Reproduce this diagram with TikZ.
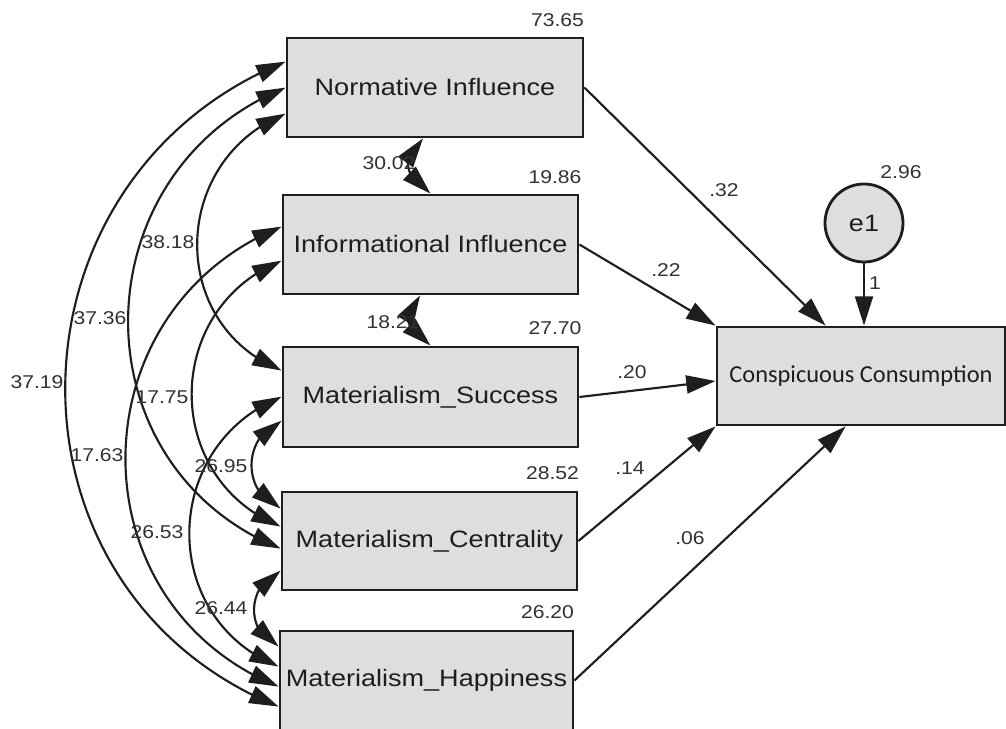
\documentclass[tikz,border=0pt]{standalone}
\usepackage{fontspec}
\setmainfont[FakeStretch=1.14]{Liberation Sans}
\newfontfamily\ccfont{Carlito}
\usetikzlibrary{arrows.meta,bending,calc}
\definecolor{boxfill}{RGB}{222,222,222}
\definecolor{ink}{RGB}{30,30,30}
\definecolor{numink}{RGB}{50,50,50}
\begin{document}
\begin{tikzpicture}[x=0.75pt,y=-0.75pt,
  >={Triangle[length=22pt,width=13.5pt]},
  box/.style={draw=ink, line width=2.1pt, fill=boxfill, inner sep=0pt, font=\fontsize{17.8}{20}\selectfont, text=ink},
  num/.style={font=\fontsize{13.9}{15}\selectfont, text=numink, inner sep=0pt},
  arr/.style={->, line width=1.6pt, draw=ink},
  cov/.style={<->, line width=1.6pt, draw=ink, out=202, in=158, looseness=1.235}]
\useasboundingbox (0,0) rectangle (1006,728);
\fill[white] (0,0) rectangle (1006,728);

% boxes
\node[box, minimum width=222pt, minimum height=74.25pt] (N) at (435,87.5) {Normative Influence};
\node[box, minimum width=221.25pt, minimum height=74.25pt] (I) at (430.5,244.5) {Informational Influence};
\node[box, minimum width=221.25pt, minimum height=75pt] (S) at (430.5,397) {Materialism\_Success};
\node[box, minimum width=221.25pt, minimum height=73.5pt] (C) at (429.5,541) {Materialism\_Centrality};
\node[box, minimum width=219.75pt, minimum height=74.25pt] (H) at (426.5,680.5) {Materialism\_Happiness};
\node[box, minimum width=216pt, minimum height=73.5pt, font=\ccfont\fontsize{18.3}{20}\selectfont] (CC) at (861,376) {Conspicuous Consumption};
\node[box, circle, minimum size=58.5pt] (e1) at (864,223) {e1};

% covariances
\draw[cov] ($(N.south)+(-12,0)$) to (I.north);
\draw[cov] ($(I.south)+(-10.5,0)$) to (S.north);
\draw[cov] ($(S.north west)+(0,75)$) to ($(C.north west)+(0,18)$);
\draw[cov] ($(C.north west)+(0,80)$) to ($(H.north west)+(0,17)$);
\draw[cov] ($(N.north west)+(0,77)$) to ($(S.north west)+(0,25)$);
\draw[cov] ($(N.north west)+(0,51)$) to ($(C.north west)+(0,58)$);
\draw[cov] ($(N.north west)+(0,25)$) to ($(H.north west)+(0,77)$);
\draw[cov] ($(I.north west)+(0,67)$) to ($(C.north west)+(0,36)$);
\draw[cov] ($(I.north west)+(0,33)$) to ($(H.north west)+(0,57)$);
\draw[cov] ($(S.north west)+(0,51)$) to ($(H.north west)+(0,37)$);

% regression paths
\draw[arr] (N.east) -- ($(CC.north west)+(110,0)$);
\draw[arr] (I.east) -- (CC.north west);
\draw[arr] (S.east) -- ($(CC.west)+(0,5)$);
\draw[arr] (C.east) -- (CC.south west);
\draw[arr] (H.east) -- ($(CC.south west)+(130,0)$);
\draw[arr] (e1.south) -- (e1.south |- CC.north);

% variances
\node[num] (vN) at (557.5,20) {73.65};
\node[num] (vI) at (555,177) {19.86};
\node[num] (vS) at (555,328) {27.70};
\node[num] (vC) at (552.5,473) {28.52};
\node[num] (vH) at (547.5,612) {26.20};
\node[num] (ve) at (901,172) {2.96};

% covariance values
\node[num] (cNI) at (389,163) {30.02};
\node[num] (cIS) at (393,322) {18.21};
\node[num] (cNS) at (168,242) {38.18};
\node[num] (cNC) at (100,318) {37.36};
\node[num] (cNH) at (37,382) {37.19};
\node[num] (cIC) at (162,397) {17.75};
\node[num] (cIH) at (97,455) {17.63};
\node[num] (cSC) at (221,466) {26.95};
\node[num] (cSH) at (157,532) {26.53};
\node[num] (cCH) at (221,608) {26.44};

% path coefficients
\node[num] (pN) at (724,190) {.32};
\node[num] (pI) at (666,270) {.22};
\node[num] (pS) at (632,372) {.20};
\node[num] (pC) at (630,468) {.14};
\node[num] (pH) at (690,538) {.06};
\node[num] (pe) at (875,283) {1};
\end{tikzpicture}
\end{document}
